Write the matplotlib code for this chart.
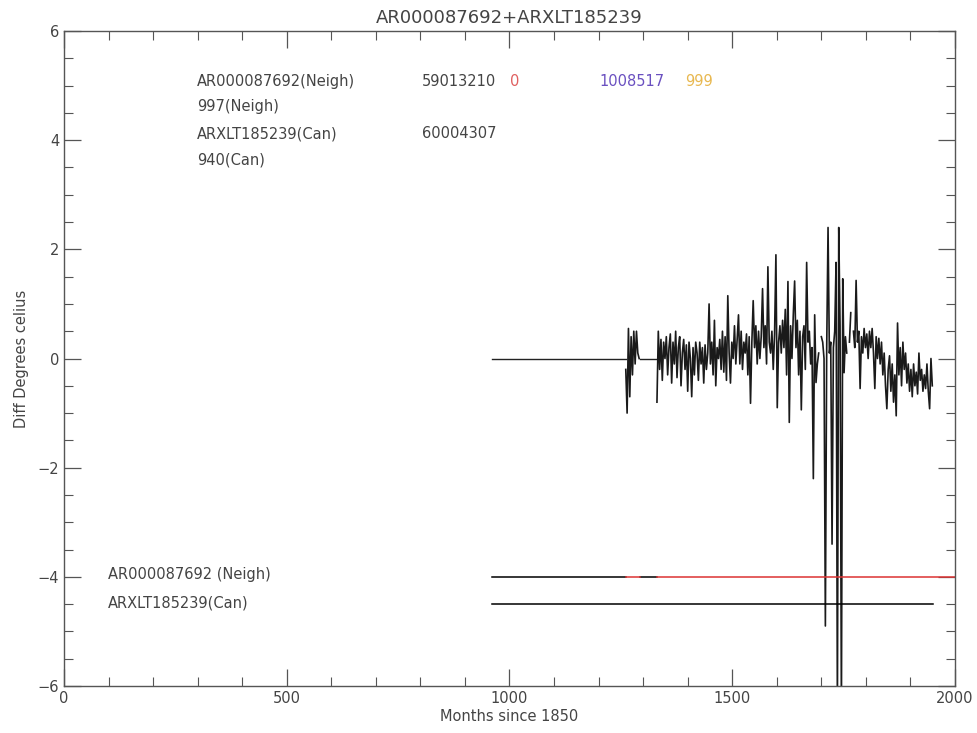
import numpy as np
import matplotlib.pyplot as plt
from matplotlib.ticker import MultipleLocator

# Datos
titulo = "AR000087692+ARXLT185239"

# tramo plano en cero (sin datos de diferencia)
flat_x1 = [960, 1261]
flat_x2 = [1293, 1331]
flat_y = [0.0, 0.0]

# primer tramo corto de diferencias (cada 3 meses)
burst_meses = np.arange(1261, 1294, 3)
burst_vals = [-0.2, -1.0, 0.55, -0.7, 0.4, -0.3, 0.5, -0.1, 0.5, 0.1, 0.0]

# serie principal, meses 1331..1949 cada 3 meses
meses = np.arange(1331, 1950, 3)
nan = np.nan
diff_vals = [
    -0.8, 0.5, -0.2, 0.35, -0.4, 0.3, 0.0, 0.4, -0.3, 0.2,
    0.45, -0.45, 0.3, -0.1, 0.5, -0.35, 0.2, 0.4, -0.5, 0.1,
    0.35, -0.2, 0.25, -0.6, 0.3, 0.0, -0.7, 0.2, -0.3, 0.3,
    0.1, -0.4, 0.3, -0.1, 0.2, -0.45, 0.25, -0.2, 0.1, 1.0,
    -0.1, 0.3, -0.3, 0.7, -0.5, 0.2, 0.0, 0.35, -0.2, 0.5,
    -0.25, 0.4, -0.4, 1.15, 0.1, -0.45, 0.3, 0.0, 0.6, -0.1,
    0.35, 0.8, -0.1, 0.5, -0.2, 0.3, 0.1, 0.45, -0.3, 0.4,
    -0.82, 0.3, 1.06, 0.2, 0.6, -0.1, 0.5, 0.0, 0.4, 1.28,
    0.2, 0.6, -0.1, 1.68, 0.3, 0.1, 0.5, -0.2, 0.45, 1.9,
    -0.9, 0.3, 0.6, 0.1, 0.7, 0.2, 0.9, -0.3, 1.41, -1.17,
    0.6, 0.0, 0.8, 1.42, 0.2, 0.7, -0.3, 0.5, -0.94, 0.4,
    0.6, -0.2, 1.76, 0.3, 0.5, -0.1, 0.2, -2.2, 0.8, -0.44,
    -0.1, 0.1, nan, 0.4, 0.3, 0.0, -4.9, 0.2, 2.4, 0.1,
    0.3, -3.4, 0.2, 0.5, 1.76, -6.5, 2.4, 0.6, -6.5, 1.46,
    -0.26, 0.4, 0.1, nan, 0.3, 0.84, nan, 0.5, 0.2, 1.43,
    0.3, 0.5, -0.55, 0.4, 0.1, 0.55, 0.2, 0.45, 0.0, 0.5,
    0.2, 0.55, 0.1, -0.55, 0.4, 0.0, 0.37, -0.1, 0.3, -0.3,
    0.1, -0.5, -0.92, -0.2, 0.05, -0.6, -0.1, -0.8, -0.3, -1.05,
    0.65, -0.3, 0.2, -0.5, 0.3, -0.2, 0.1, -0.45, -0.1, -0.6,
    -0.2, -0.7, -0.1, -0.5, -0.25, -0.65, 0.1, -0.4, -0.2, -0.6,
    -0.3, -0.55, -0.1, -0.6, -0.92, 0.0, -0.5,
]

# barras de cobertura
neigh_y = -4.0
can_y = -4.5
neigh_negro = [(960, 1261), (1293, 1331)]
neigh_rojo = [(1261, 1293), (1331, 2000)]
can_negro = (960, 1951)

# textos de cabecera
cab_filas = [
    ("AR000087692(Neigh)", 5.07),
    ("997(Neigh)", 4.62),
    ("ARXLT185239(Can)", 4.12),
    ("940(Can)", 3.63),
]
cab_numeros = [
    (804, 5.07, "59013210", "#444444"),
    (1001, 5.07, "0", "#e06060"),
    (1203, 5.07, "1008517", "#6a50c0"),
    (1394, 5.07, "999", "#e8b850"),
    (804, 4.12, "60004307", "#444444"),
]

gris = "#444444"
fig = plt.figure(figsize=(9.78, 7.33), dpi=100)
ax = fig.add_axes([0.0654, 0.0641, 0.9111, 0.8936])

ax.plot(flat_x1, flat_y, color="#222222", lw=1.0)
ax.plot(flat_x2, flat_y, color="#222222", lw=1.0)
ax.plot(burst_meses, burst_vals, color="#1a1a1a", lw=1.2)
ax.plot(meses, diff_vals, color="#1a1a1a", lw=1.2)

for a, b in neigh_negro:
    ax.plot([a, b], [neigh_y, neigh_y], color="black", lw=1.1)
for a, b in neigh_rojo:
    ax.plot([a, b], [neigh_y, neigh_y], color="#dd3333", lw=1.1)
ax.plot(list(can_negro), [can_y, can_y], color="black", lw=1.1)

ax.text(98, -3.96, "AR000087692 (Neigh)", fontsize=10.5, color=gris, va="center")
ax.text(98, -4.47, "ARXLT185239(Can)", fontsize=10.5, color=gris, va="center")

for txt, yy in cab_filas:
    ax.text(298, yy, txt, fontsize=10.5, color=gris, va="center")
for xx, yy, txt, col in cab_numeros:
    ax.text(xx, yy, txt, fontsize=10.5, color=col, va="center")

ax.set_xlim(0, 2000)
ax.set_ylim(-6, 6)
ax.xaxis.set_major_locator(MultipleLocator(500))
ax.xaxis.set_minor_locator(MultipleLocator(100))
ax.yaxis.set_major_locator(MultipleLocator(2))
ax.yaxis.set_minor_locator(MultipleLocator(0.5))
ax.tick_params(which="both", direction="in", top=True, right=True,
               color="#555555", labelcolor=gris, labelsize=10.5)
ax.tick_params(which="major", length=12, width=0.9)
ax.tick_params(which="minor", length=6.5, width=0.8)
for s in ax.spines.values():
    s.set_color("#555555")
    s.set_linewidth(1.0)

ax.set_xlabel("Months since 1850", fontsize=10.5, color=gris, labelpad=2)
ax.set_ylabel("Diff Degrees celius", fontsize=10.5, color=gris, labelpad=6)
ax.set_title(titulo, fontsize=13, color=gris, pad=6)

fig.savefig("out.png", dpi=100)
